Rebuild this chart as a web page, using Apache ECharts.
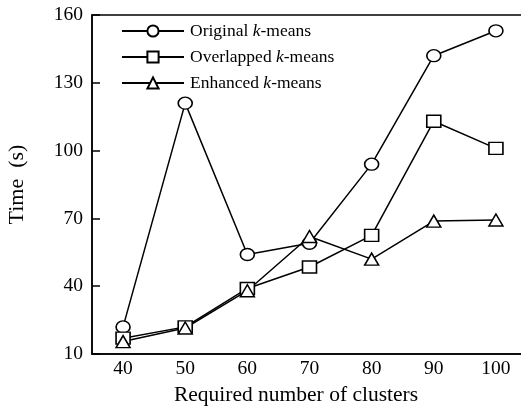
<!DOCTYPE html>
<html>
<head>
<meta charset="utf-8">
<script src="https://cdn.jsdelivr.net/npm/echarts@6/dist/echarts.min.js"></script>
<style>
  html, body { margin: 0; padding: 0; background: #fff; }
  #chart { width: 521px; height: 408px; }
</style>
</head>
<body>
<div id="chart"></div>
<script>
// Number of clusters on the x axis
const clusters = ['40', '50', '60', '70', '80', '90', '100'];
// Running time in seconds for each method
const originalKMeans = [22, 121, 54, 59, 94, 142, 153];
const overlappedKMeans = [17, 22, 39, 48.5, 62.5, 113, 101];
const enhancedKMeans = [15.5, 21.5, 38, 62, 52, 68.8, 69.3];
// Y axis tick values
const timeTicks = [10, 40, 70, 100, 130, 160];

const serif = '"Liberation Serif", "Times New Roman", serif';

const legendNames = {
  'Original k-means': 'Original {i|k}-means',
  'Overlapped k-means': 'Overlapped {i|k}-means',
  'Enhanced k-means': 'Enhanced {i|k}-means'
};

function makeSeries(name, data, symbol) {
  return {
    name: name,
    type: 'line',
    data: data,
    symbol: symbol,
    symbolSize: [14, 12],
    showSymbol: true,
    lineStyle: { color: '#000', width: 1.5 },
    itemStyle: { color: '#fff', borderColor: '#000', borderWidth: 1.5 },
    emphasis: { disabled: true },
    animation: false
  };
}

const chart = echarts.init(document.getElementById('chart'), null, { renderer: 'canvas' });
chart.setOption({
  backgroundColor: '#fff',
  animation: false,
  grid: {
    left: 92, top: 15, width: 435, height: 339,
    outerBoundsMode: 'none',
    show: true, borderColor: '#000', borderWidth: 1.5, backgroundColor: 'transparent'
  },
  legend: {
    left: 116, top: 17, orient: 'vertical',
    itemWidth: 62, itemHeight: 14, itemGap: 8,
    formatter: n => legendNames[n],
    textStyle: {
      fontFamily: serif, fontSize: 17.5, color: '#000', padding: [0, 0, 0, 1],
      rich: { i: { fontFamily: serif, fontSize: 17.5, fontStyle: 'italic', color: '#000' } }
    }
  },
  xAxis: {
    type: 'category',
    data: clusters,
    boundaryGap: true,
    axisLine: { lineStyle: { color: '#000', width: 1.5 } },
    axisTick: { inside: true, alignWithLabel: true, length: 6, lineStyle: { color: '#000', width: 1.5 } },
    axisLabel: { fontFamily: serif, fontSize: 19.5, color: '#000', margin: 5 },
    name: 'Required number of clusters',
    nameLocation: 'middle',
    nameGap: 28,
    nameTextStyle: { fontFamily: serif, fontSize: 21.5, color: '#000', padding: [0, 27, 0, 0] }
  },
  yAxis: {
    type: 'value',
    min: 10, max: 160,
    splitLine: { show: false },
    axisLine: { show: true, lineStyle: { color: '#000', width: 1.5 } },
    axisTick: { show: true, inside: true, length: 8, customValues: timeTicks, lineStyle: { color: '#000', width: 1.5 } },
    axisLabel: { fontFamily: serif, fontSize: 19.5, color: '#000', margin: 9, customValues: timeTicks },
    name: 'Time  (s)',
    nameLocation: 'middle',
    nameGap: 64,
    nameTextStyle: { fontFamily: serif, fontSize: 22, color: '#000' }
  },
  series: [
    makeSeries('Original k-means', originalKMeans, 'circle'),
    makeSeries('Overlapped k-means', overlappedKMeans, 'rect'),
    makeSeries('Enhanced k-means', enhancedKMeans, 'triangle')
  ]
});
</script>
</body>
</html>
